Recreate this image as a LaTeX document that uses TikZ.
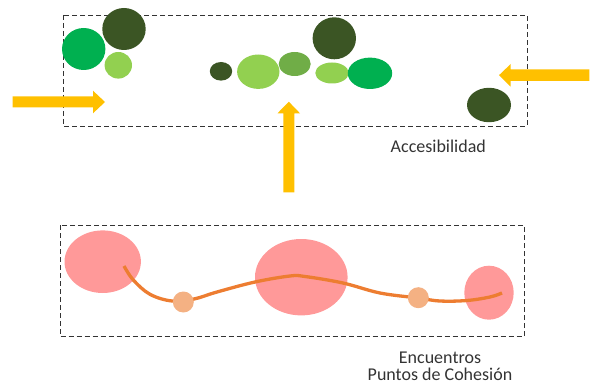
\documentclass[tikz,border=0pt]{standalone}
\usepackage{fontspec}
\setmainfont{Carlito}
\definecolor{dkgreen}{HTML}{3B5524}
\definecolor{mdgreen}{HTML}{00B050}
\definecolor{ltgreen}{HTML}{92D050}
\definecolor{olgreen}{HTML}{70AD47}
\definecolor{arrowy}{HTML}{FFC000}
\definecolor{pinkc}{HTML}{FF9999}
\definecolor{peach}{HTML}{F4B183}
\definecolor{orangec}{HTML}{ED7D31}
\definecolor{txt}{HTML}{333333}
\begin{document}
\begin{tikzpicture}[x=1pt,y=-1pt,
  frame/.style={draw=black!80,line width=0.9pt,dash pattern=on 5pt off 3pt},
  fatarrow/.style={fill=arrowy},
  label/.style={text=txt,font=\fontsize{18}{16.5}\selectfont,align=center,inner sep=0pt}]
\useasboundingbox (0,0) rectangle (592,385);
% frames
\draw[frame] (63,15) rectangle (527,126);
\draw[frame] (60,225) rectangle (524,336.5);
% top circles
\fill[mdgreen] (83.7,49) ellipse [x radius=21.7,y radius=21];
\fill[dkgreen] (124,29) ellipse [x radius=21.7,y radius=21];
\fill[ltgreen] (118.3,65.3) ellipse [x radius=13.7,y radius=13.3];
\fill[dkgreen] (221,71.3) ellipse [x radius=11.2,y radius=9.3];
\fill[ltgreen] (258.3,71.7) ellipse [x radius=21.2,y radius=17.2];
\fill[olgreen] (294.7,64) ellipse [x radius=16,y radius=12];
\fill[dkgreen] (334.3,38.3) ellipse [x radius=21.7,y radius=21];
\fill[ltgreen] (332,73) ellipse [x radius=16.7,y radius=10.5];
\fill[mdgreen] (370,73.3) ellipse [x radius=22.2,y radius=15.7];
\fill[dkgreen] (489,105) ellipse [x radius=22,y radius=17.2];
% arrows
\fill[fatarrow] (12.7,96.3) -- (93,96.3) -- (93,90.7) -- (105,102) -- (93,113.3) -- (93,107.3) -- (12.7,107.3) -- cycle;
\fill[fatarrow] (589.3,69.3) -- (510.7,69.3) -- (510.7,64) -- (499,75.2) -- (510.7,86.7) -- (510.7,81) -- (589.3,81) -- cycle;
\fill[fatarrow] (283.3,192.3) -- (283.3,113.3) -- (277.5,113.3) -- (288.8,101.7) -- (300,113.3) -- (294.3,113.3) -- (294.3,192.3) -- cycle;
% bottom
\fill[pinkc] (102.7,261.7) ellipse [x radius=38.2,y radius=31.3];
\fill[pinkc] (301.3,277.2) ellipse [x radius=46.3,y radius=38.2];
\fill[pinkc] (489,292.7) ellipse [x radius=24.7,y radius=27];
\draw[orangec,line width=3.3pt] plot[smooth,tension=0.6] coordinates {(124,266) (133.3,280) (150,294.3) (172,301) (194,299) (217,292) (255,282) (290,276) (305,276.5) (343,283) (380,293) (418,298) (440,301) (467,300.5) (490,297) (502,293)};
\fill[peach] (183.3,302) circle [radius=10.5];
\fill[peach] (418.3,297.7) circle [radius=10.5];
% labels
\node[label] (acc) at (438.3,146.7) {Accesibilidad};
\node[label] (enc) at (440,366.5) {Encuentros\\Puntos de Cohesión};
\end{tikzpicture}
\end{document}
